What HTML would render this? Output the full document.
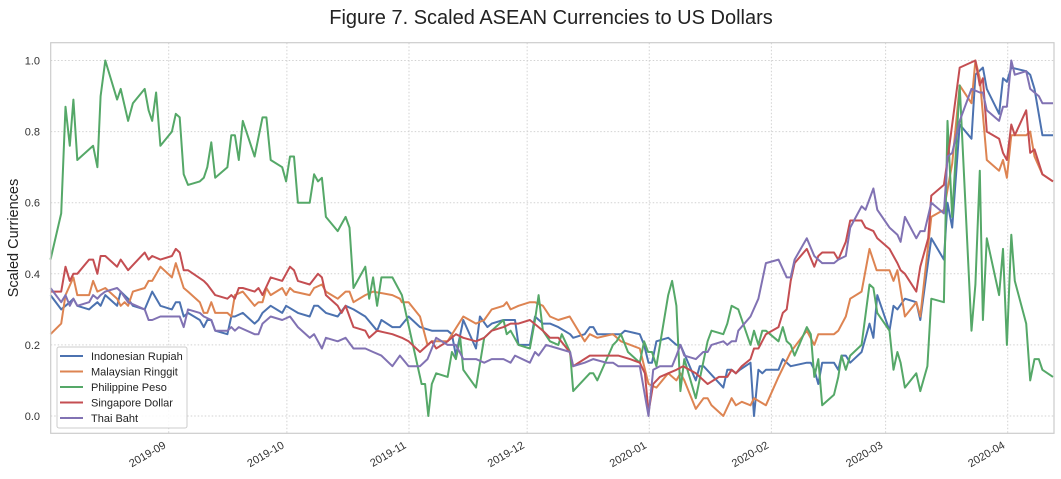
<!DOCTYPE html>
<html><head><meta charset="utf-8"><style>
body{margin:0;background:#fff;}
svg{display:block;font-family:"Liberation Sans","DejaVu Sans",sans-serif;}
</style></head><body>
<svg id="chart" width="1061" height="479" viewBox="0 0 1061 479" xmlns="http://www.w3.org/2000/svg">
<text x="551" y="24" font-size="20" text-anchor="middle" fill="#222">Figure 7. Scaled ASEAN Currencies to US Dollars</text>
<text transform="translate(18,238) rotate(-90)" font-size="14.5" text-anchor="middle" fill="#222">Scaled Curriences</text>
<g id="grid"></g><g id="series"></g><g id="ticks"></g>
<rect x="50.7" y="42.7" width="1003.3" height="390.6" fill="none" stroke="#cccccc" stroke-width="1.2"/>
<g id="legend"></g>
</svg>
<script>
// day index = days since 2019-08-01
const tickLabels = ["2019-09","2019-10","2019-11","2019-12","2020-01","2020-02","2020-03","2020-04"];
const tickDays = [31,61,92,122,153,184,213,244];
const yTicks = [0,0.2,0.4,0.6,0.8,1.0];
const seriesNames = ["Indonesian Rupiah","Malaysian Ringgit","Philippine Peso","Singapore Dollar","Thai Baht"];
const seriesColors = ["#4c72b0","#dd8452","#55a868","#c44e52","#8172b3"];

const idrDays=[1,3.7,4.8,5.9,6.8,7.8,10.8,11.8,12.9,13.7,14.9,17.9,18.8,20.7,21.9,24.9,26.8,28.9,31.8,32.8,33.8,34.8,35.9,38.9,39.9,40.8,41.8,42.8,45.9,46.9,47.8,49.8,52.8,53.8,54.8,56.9,59.8,60.8,63.8,66.8,67.9,68.9,70.9,73.9,75.9,77.9,80.9,83.9,85,87.8,89.7,91.9,94.8,97.8,101.8,102.9,103.9,105.8,109,110,111.9,113,116,117.8,118.9,119.8,122.7,124,126,127.8,129.9,132.9,133.7,136.6,137.9,138.8,139.8,143.8,145.8,146.8,150.6,151.7,152.8,153.7,154.8,157.8,159.9,160.9,164.8,165.8,166.8,171.8,172.8,173.9,175,176,178.7,179.6,180.7,181.7,182.6,185.8,186.9,188.9,193,194,194.9,195.9,196.9,199.9,201,201.8,202.9,204,206.9,208.9,209.9,210.9,214,215,216,217.9,220.8,221.8,224.6,227.8,228.7,229.9,231.8,234.8,235.8,237.7,238.7,241.8,242.8,243.8,244.9,248.7,249.7,250.8,252.8,255.5];
const idrVals=[.34,.30,.31,.32,.33,.31,.30,.31,.32,.31,.34,.31,.35,.33,.31,.30,.35,.31,.30,.32,.32,.28,.29,.27,.25,.27,.27,.24,.23,.28,.28,.29,.26,.27,.29,.31,.29,.31,.29,.28,.31,.31,.29,.28,.31,.30,.28,.24,.27,.25,.25,.28,.25,.24,.24,.23,.17,.27,.19,.28,.25,.26,.27,.27,.27,.20,.20,.28,.26,.26,.25,.23,.22,.23,.25,.25,.23,.23,.23,.24,.23,.20,.15,.15,.21,.22,.20,.20,.10,.14,.14,.08,.13,.13,.12,.13,.15,0,.13,.12,.13,.13,.16,.14,.15,.15,.13,.09,.15,.15,.13,.17,.17,.15,.18,.26,.22,.34,.24,.31,.30,.33,.32,.27,.50,.44,.60,.53,.82,.78,.96,.98,.92,.85,.95,.94,.98,.97,.96,.92,.79,.79];

const myrDays=[1,3.7,4.8,6.8,7.8,10.8,11.8,12.9,14.9,17.9,18.8,19.8,20.7,21.9,24.9,25.9,26.8,28.9,31.8,32.8,34.8,35.9,38.9,39.9,40.8,41.8,42.8,45.9,46.9,47.8,49.8,52.8,53.8,54.8,55.8,56.9,59.8,60.8,61.8,62.8,66.8,67.9,69.9,70.9,73.9,75.9,76.9,77.9,80.9,82.9,87.8,89.7,90.2,91.9,94.8,96.7,97.8,101.8,105.8,109,111.1,113,116,116.8,117.8,119.8,122.7,124,126,127.8,129.9,132.8,136.6,137.9,139.8,143.8,145.8,150.6,152.8,154.8,157.8,159.9,160.9,161.9,164.8,166.8,167.8,168.8,171.8,173.9,175,176.5,178.7,179.6,182.6,185.8,188.9,193,194.9,195.9,199.9,201,202.9,204,206.9,208.9,210.7,214,215,216,217.9,220.8,221.8,224.6,227.8,229.9,231.8,234.8,235.8,236.9,238.7,241.8,242.8,243.8,244.9,248.7,249.7,250.8,252.8,255.5];
const myrVals=[.23,.26,.34,.39,.34,.34,.38,.35,.36,.33,.31,.32,.31,.35,.36,.38,.38,.42,.39,.43,.36,.35,.32,.29,.29,.32,.29,.29,.28,.34,.35,.31,.32,.32,.36,.34,.36,.34,.36,.35,.34,.36,.37,.35,.33,.35,.35,.32,.34,.35,.34,.33,.32,.32,.28,.20,.21,.21,.28,.26,.27,.30,.31,.32,.30,.31,.32,.32,.31,.28,.27,.28,.21,.23,.22,.23,.21,.19,.09,.08,.12,.10,.12,.10,.02,.05,.05,.03,0,.05,.03,.04,.03,.05,.03,.11,.18,.24,.20,.23,.23,.24,.28,.33,.35,.47,.41,.41,.38,.41,.28,.32,.28,.56,.58,.71,.93,.88,1.0,.95,.72,.69,.72,.67,.79,.79,.80,.73,.68,.66];

const phpDays=[1,3.7,4.8,5.9,6.8,7.8,11.8,12.9,13.7,14.9,17.9,18.8,20.7,21.9,24.9,25.9,26.8,27.8,28.9,31.8,32.8,33.8,34.8,35.9,38.9,39.9,40.8,41.8,42.8,45.9,46.9,47.8,48.8,49.8,52.8,54.8,55.8,56.9,59.8,60.8,61.8,62.8,63.8,66.8,67.9,68.9,69.9,70.9,73.9,74.9,75.9,76.9,77.9,80.9,81.9,82.9,83.9,85,87.8,90.2,95.2,96.1,96.9,97.8,98.9,101.8,102.9,103.9,105,105.8,109,111.1,113,116,116.8,117.8,119.8,122.7,124,124.9,126,127.8,129.9,130.8,132.9,133.7,137.9,138.8,139.8,143.8,144.7,145.8,147.6,150.6,151.7,152.7,153.7,154.8,157.8,158.8,159.9,160.9,161.9,164.8,167.8,168.8,171.8,172.8,173.9,175.6,178.7,179.6,180.7,181.7,182.6,185.8,186.9,187.9,188.9,189.9,193,194,194.9,195.9,196.9,199.9,201,201.8,202.9,204,206.9,208.9,209.9,210.9,214,215,216,216.8,217.9,220.8,221.8,223.6,224.6,227.8,228.7,229.9,231.8,234.8,235.8,236.9,237.7,238.7,241.8,242.8,243.8,244.9,245.8,248.7,249.7,250.8,251.9,252.8,255.5];
const phpVals=[.44,.57,.87,.76,.89,.72,.76,.70,.90,1.0,.89,.92,.83,.88,.92,.86,.83,.91,.76,.80,.85,.84,.68,.65,.66,.67,.70,.77,.67,.70,.79,.79,.72,.83,.73,.84,.84,.72,.70,.66,.73,.73,.60,.60,.68,.66,.67,.56,.52,.54,.56,.53,.36,.42,.33,.39,.31,.39,.39,.34,.09,.09,0,.09,.12,.11,.18,.16,.22,.13,.08,.22,.24,.27,.23,.24,.20,.19,.27,.34,.24,.21,.20,.23,.18,.07,.12,.12,.10,.20,.21,.23,.18,.15,.21,.18,.18,.14,.34,.38,.31,.07,.16,.05,.21,.24,.23,.26,.31,.30,.20,.24,.20,.24,.24,.21,.25,.21,.20,.17,.25,.23,.11,.16,.03,.06,.11,.17,.13,.17,.20,.37,.36,.29,.24,.13,.18,.15,.08,.12,.07,.14,.33,.32,.83,.56,.93,.24,.37,.69,.27,.50,.34,.47,.20,.51,.38,.26,.10,.16,.16,.13,.11];

const sgdDays=[1,3.7,4.8,5.9,6.8,7.8,10.8,11.8,12.9,13.7,14.9,17.9,18.8,20.7,24.9,25.9,26.8,28.9,31.8,32.8,33.8,34.8,35.9,39.9,40.8,42.8,45.9,46.9,47.8,48.8,49.8,52.8,53.8,54.8,56.9,59.8,61.8,62.8,63.8,66.8,68.9,69.9,70.9,73.9,74.9,75.9,76.9,77.9,80.9,81.9,83.9,87.8,90.2,91.9,94.8,97.8,98.9,101.8,103.9,105.8,109,111.1,113,116,117.8,119.8,122.7,124.9,126,127.8,129.9,132.8,133.7,137.9,140.5,143.8,145.1,148.1,150.6,151.9,152.8,154,155.7,157.8,159.9,161.6,164.8,167.8,170.7,172.8,173.9,175,176.5,178.7,179.6,180.7,182.6,185.8,186.9,187.9,188.9,189.9,193,194.9,195.9,196.9,199.9,201,202.9,204,206.9,207.9,209.9,210.9,214,216,216.8,217.9,220.8,221.8,223.8,224.6,227.8,228.7,231.8,235.8,236.9,237.7,238.7,241.8,242.8,243.8,244.9,245.8,248.7,249.7,250.8,252.8,255.5];
const sgdVals=[.35,.35,.42,.38,.40,.40,.44,.44,.40,.45,.45,.42,.44,.41,.46,.44,.45,.44,.45,.47,.46,.41,.41,.38,.37,.34,.33,.34,.33,.36,.36,.35,.36,.34,.39,.38,.42,.41,.38,.37,.40,.39,.34,.31,.29,.31,.28,.25,.24,.22,.24,.23,.22,.21,.18,.21,.19,.21,.23,.22,.21,.22,.24,.25,.26,.26,.27,.25,.24,.22,.22,.18,.14,.17,.17,.17,.17,.16,.15,.12,.01,.09,.11,.12,.13,.14,.12,.09,.11,.11,.13,.12,.14,.16,.19,.19,.23,.25,.29,.30,.38,.43,.47,.42,.45,.46,.46,.44,.49,.55,.55,.53,.52,.50,.47,.43,.41,.40,.35,.42,.50,.62,.65,.72,.98,1.0,.93,.95,.80,.78,.74,.72,.82,.79,.86,.74,.75,.68,.66];

const thbDays=[1,3.7,4.8,5.9,6.8,7.8,10.8,11.8,12.9,13.7,14.9,17.9,18.8,20.7,24.9,25.9,26.8,28.9,31.8,32.8,33.8,34.8,35.9,38.9,39.9,41.8,42.8,45.9,46.9,47.8,48.8,52.8,53.8,54.8,56.9,59.8,61.8,63.8,66.8,67.9,69.9,70.9,73.9,75.9,77.9,80.9,82.9,85,87.8,89.7,91.9,94.8,96.7,98.9,101.8,103.9,105.8,109,111.1,113,116,117.8,118.9,122.7,124,124.9,126.8,129.9,132.9,133.7,136.6,138.8,142.1,143.8,145.1,150.6,152.8,154,155.7,158.8,159.9,160.9,161.9,164.8,166.7,167.8,168.8,171.8,172.8,173.9,175,175.6,178.7,180.7,182.6,185.8,187.9,188.9,189.9,193,194.9,196.9,199.9,201,202.9,204,206.9,207.9,209.9,210.9,214,216,216.8,217.9,220.8,221.8,222.9,224.6,227.8,228.7,229.9,231.8,234.8,236.9,237.7,238.7,241.8,242.8,243.8,244.9,245.8,248.7,249.7,251.9,252.8,255.5];
const thbVals=[.36,.32,.34,.31,.33,.31,.32,.34,.33,.34,.35,.36,.35,.32,.30,.27,.27,.28,.28,.28,.28,.25,.30,.29,.28,.27,.24,.24,.25,.24,.25,.23,.23,.26,.28,.27,.28,.25,.22,.23,.19,.22,.21,.22,.19,.19,.18,.17,.14,.17,.14,.14,.16,.22,.20,.20,.16,.16,.15,.16,.16,.15,.17,.15,.18,.17,.20,.19,.18,.14,.15,.16,.15,.15,.14,.14,0,.13,.14,.14,.17,.20,.17,.16,.18,.18,.20,.21,.20,.21,.21,.24,.28,.33,.43,.44,.39,.39,.44,.50,.45,.43,.43,.44,.45,.53,.59,.58,.64,.58,.53,.51,.49,.56,.50,.52,.52,.60,.57,.73,.74,.83,.92,.91,.91,.86,.83,.87,.87,1.0,.96,.97,.92,.90,.88,.88];

const NS="http://www.w3.org/2000/svg";
const L=50.7,R=1054,T=42.7,B=433.3;
const D0=1.04,DPX=3.939;
function xs(d){return L+(d-D0)*DPX;}
function ys(v){return 416-v*355.5;}
function mk(tag,attrs,parent){const e=document.createElementNS(NS,tag);for(const k in attrs)e.setAttribute(k,attrs[k]);parent.appendChild(e);return e;}
const grid=document.getElementById('grid'),ticks=document.getElementById('ticks'),ser=document.getElementById('series'),leg=document.getElementById('legend');
yTicks.forEach(v=>{
  const g=mk('line',{x1:L,x2:R,y1:ys(v),y2:ys(v),stroke:'#d2d2d2','stroke-width':1,'stroke-dasharray':'1.5,2'},grid);
  
  
  const t=mk('text',{x:40,y:ys(v)+4,'font-size':11,'text-anchor':'end',fill:'#333'},ticks);
  
  
  t.textContent=v.toFixed(1);
});
tickDays.forEach((d,i)=>{
  const x=xs(d);
  const g=mk('line',{x1:x,x2:x,y1:T,y2:B,stroke:'#d2d2d2','stroke-width':1,'stroke-dasharray':'1.5,2'},grid);
  
  
  const t=mk('text',{transform:`translate(${x-2},${B+14}) rotate(-30)`,'font-size':11,'text-anchor':'end',fill:'#333'},ticks);
  
  
  t.textContent=tickLabels[i];
});
const allDays=[idrDays,myrDays,phpDays,sgdDays,thbDays],allVals=[idrVals,myrVals,phpVals,sgdVals,thbVals];
const sNames=['line-indonesian-rupiah','line-malaysian-ringgit','line-philippine-peso','line-singapore-dollar','line-thai-baht'];
allDays.forEach((ds,i)=>{
  const vs=allVals[i];const n=Math.min(ds.length,vs.length);
  let p='';for(let k=0;k<n;k++)p+=(k?'L':'M')+xs(ds[k]).toFixed(1)+','+ys(vs[k]).toFixed(1);
  const e=mk('path',{d:p,fill:'none',stroke:seriesColors[i],'stroke-width':2,'stroke-linejoin':'round'},ser);
  
  
});
const box=mk('rect',{x:57,y:347,width:130,height:81,rx:2,fill:'#fff','fill-opacity':0.85,stroke:'#cccccc'},leg);


seriesNames.forEach((nm,i)=>{
  const y=356+i*15.5;
  const ln=mk('line',{x1:60,x2:83,y1:y,y2:y,stroke:seriesColors[i],'stroke-width':2},leg);
  
  
  const t=mk('text',{x:91,y:y+4,'font-size':11,fill:'#222'},leg);
  
  
  t.textContent=nm;
});
</script>
</body></html>
